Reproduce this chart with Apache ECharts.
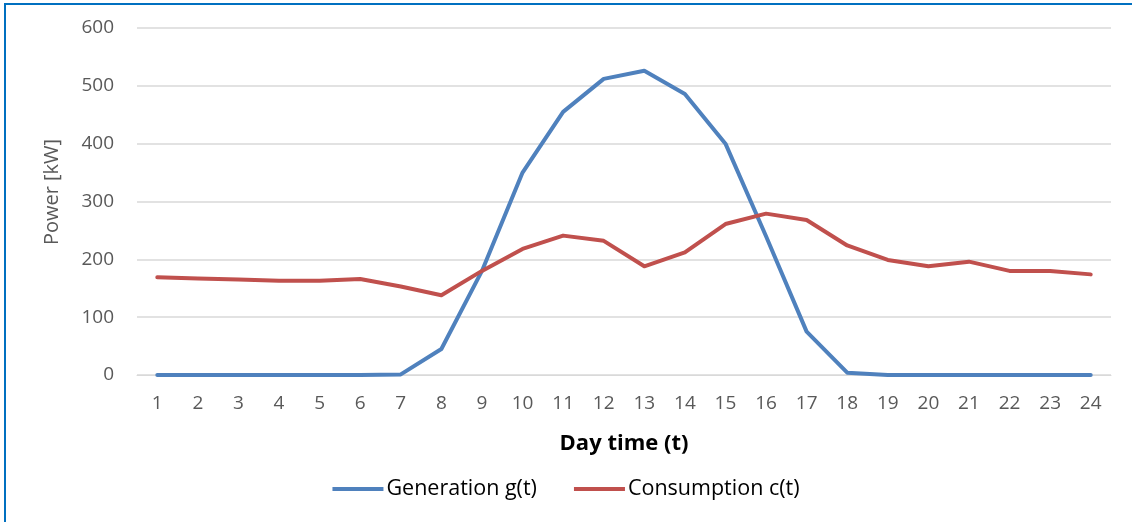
<!DOCTYPE html>
<html>
<head>
<meta charset="utf-8">
<script src="https://cdn.jsdelivr.net/npm/echarts@6/dist/echarts.min.js"></script>
<style>
  html, body { margin: 0; padding: 0; background: #fff; }
  #frame { position: absolute; left: 4px; top: 3px; width: 1140px; height: 530px;
           border-left: 2px solid #0070C0; border-top: 2px solid #0070C0; }
  #chart { position: absolute; left: 0; top: 0; width: 1132px; height: 522px; }
</style>
</head>
<body>
<div id="frame"></div>
<div id="chart"></div>
<script>
// Hours of the day
const hours = ['1','2','3','4','5','6','7','8','9','10','11','12','13','14','15','16','17','18','19','20','21','22','23','24'];
// Power generated per hour [kW]
const generation = [0, 0, 0, 0, 0, 0, 1, 45, 180, 350, 455, 512, 526, 486, 400, 240, 75, 4, 0, 0, 0, 0, 0, 0];
// Power consumed per hour [kW]
const consumption = [169, 167, 165, 163, 163, 166, 153, 138, 180, 218, 241, 232, 188, 212, 261, 279, 268, 224, 199, 188, 196, 180, 180, 174];

const FONT = '"Open Sans", "Noto Sans", sans-serif';
const chart = echarts.init(document.getElementById('chart'), null, { renderer: 'canvas' });
chart.setOption({
  animation: false,
  backgroundColor: 'transparent',
  grid: { left: 137, right: 21, top: 28, bottom: 147, containLabel: false },
  legend: {
    data: ['Generation g(t)', 'Consumption c(t)'],
    bottom: 17,
    left: 'center',
    icon: 'rect',
    itemWidth: 51,
    itemHeight: 4,
    itemGap: 37,
    textStyle: { fontFamily: FONT, fontSize: 21.5, color: '#000', padding: [0, 0, 0, -2] }
  },
  xAxis: {
    type: 'category',
    data: hours,
    boundaryGap: true,
    name: 'Day time (t)',
    nameLocation: 'middle',
    nameGap: 58,
    nameTextStyle: { fontFamily: FONT, fontSize: 22, fontWeight: 'bold', color: '#000' },
    axisLine: { show: true, lineStyle: { color: '#d9d9d9', width: 1 } },
    axisTick: { show: false },
    axisLabel: { fontFamily: FONT, fontSize: 19, color: '#595959', margin: 19 }
  },
  yAxis: {
    type: 'value',
    min: 0,
    max: 600,
    interval: 100,
    name: 'Power [kW]',
    nameLocation: 'middle',
    nameGap: 75,
    nameTextStyle: { fontFamily: FONT, fontSize: 20, color: '#595959', padding: [0, 0, 0, 19] },
    axisLine: { show: false },
    axisTick: { show: false },
    axisLabel: { fontFamily: FONT, fontSize: 19, color: '#595959', margin: 23 },
    splitLine: { lineStyle: { color: '#d9d9d9', width: 1.5 } }
  },
  series: [
    {
      name: 'Generation g(t)',
      type: 'line',
      data: generation,
      symbol: 'none',
      lineStyle: { color: '#4F81BD', width: 4, cap: 'round', join: 'round' },
      itemStyle: { color: '#4F81BD' }
    },
    {
      name: 'Consumption c(t)',
      type: 'line',
      data: consumption,
      symbol: 'none',
      lineStyle: { color: '#C0504D', width: 4, cap: 'round', join: 'round' },
      itemStyle: { color: '#C0504D' }
    }
  ]
});
</script>
</body>
</html>
